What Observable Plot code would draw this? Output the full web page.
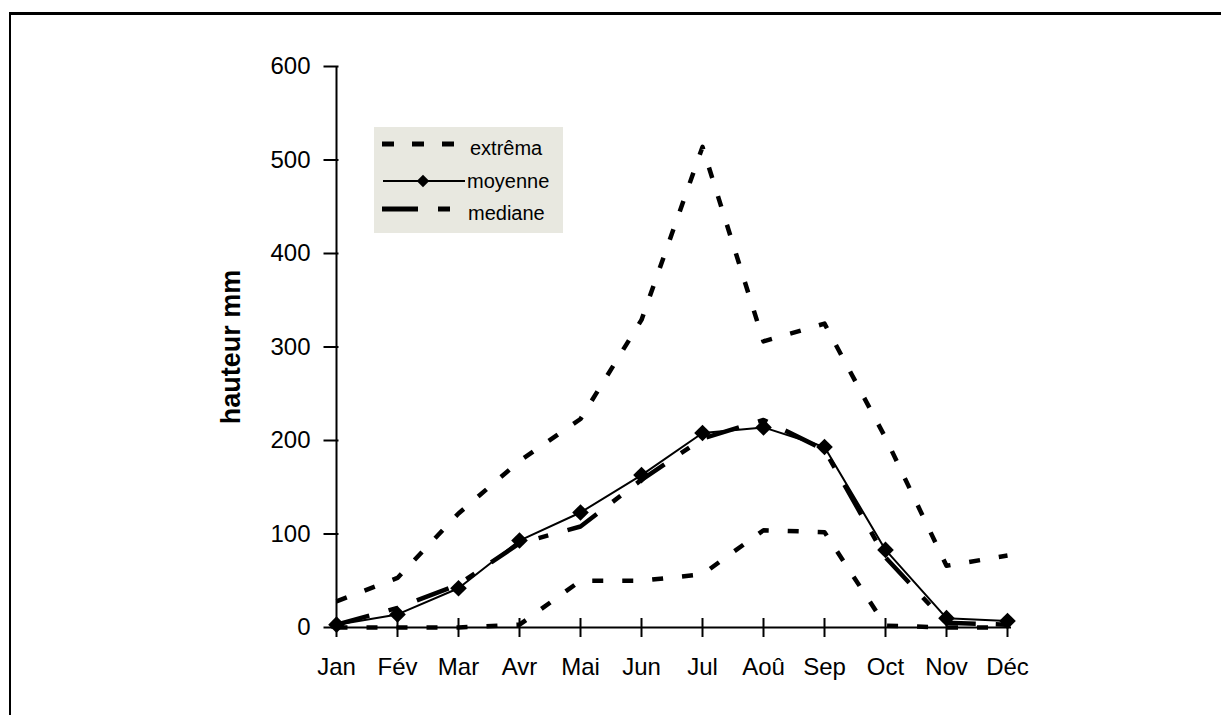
<!DOCTYPE html>
<html>
<head>
<meta charset="utf-8">
<script src="https://cdn.jsdelivr.net/npm/d3@7"></script>
<script src="https://cdn.jsdelivr.net/npm/@observablehq/plot@0.6"></script>
<style>
  html, body { margin: 0; padding: 0; background: #fff; overflow: hidden; }
  #wrap { position: relative; width: 1221px; height: 715px; font-family: "Liberation Sans", Arial, sans-serif; }
  #border { position: absolute; left: 9px; top: 12px; width: 1400px; height: 900px; border-left: 2px solid #000; border-top: 3px solid #000; box-sizing: border-box; pointer-events: none; }
  #chart { position: absolute; left: 0; top: 0; }
  #legend { position: absolute; left: 374px; top: 127px; }
</style>
</head>
<body>
<div id="wrap">
  <div id="border"></div>
  <div id="chart"></div>
  <svg id="legend" width="189" height="106"></svg>
</div>
<script>
const months = ["Jan","Fév","Mar","Avr","Mai","Jun","Jul","Aoû","Sep","Oct","Nov","Déc"];
const extremaMax = [28, 53, 122, 178, 223, 329, 514, 306, 325, 203, 66, 77];
const extremaMin = [0, 0, 0, 3, 50, 50, 57, 104, 102, 2, 0, 0];
const moyenne = [3, 14, 42, 93, 123, 163, 208, 214, 193, 83, 10, 7];
const mediane = [3, 21, 46, 90, 108, 158, 202, 222, 190, 75, 5, 3];
const yTicks = [0, 100, 200, 300, 400, 500, 600];
const yLabel = "hauteur mm";
const legendLabels = ["extrêma", "moyenne", "mediane"];

const rows = months.map((m, i) => ({
  month: m, max: extremaMax[i], min: extremaMin[i], moy: moyenne[i], med: mediane[i]
}));

const dashExt = "11,19";
const dashMed = "34,20,10,20";
const diamondR = 7.5;

const chart = Plot.plot({
  width: 1221,
  height: 715,
  marginLeft: 331,
  marginRight: 210,
  marginTop: 66,
  marginBottom: 88,
  style: { fontFamily: "'Liberation Sans', Arial, sans-serif", fontSize: "24px", color: "#000", background: "transparent", overflow: "visible" },
  x: { type: "point", domain: months, padding: 0, axis: null },
  y: { domain: [0, 600], axis: null },
  marks: [
    Plot.axisY({ ticks: yTicks, tickSize: 0, tickPadding: 21, fontSize: 24, label: null }),
    Plot.axisX({ tickSize: 0, tickPadding: 30, fontSize: 24, label: null }),
    Plot.axisY({ ticks: yTicks, tickSize: 15, dx: 7.5, tickFormat: () => "", strokeWidth: 2, label: null }),
    Plot.axisX({ tickSize: 19, dy: -9, tickFormat: () => "", strokeWidth: 2, label: null }),
    Plot.ruleY([0], { strokeWidth: 2 }),
    Plot.ruleX([months[0]], { strokeWidth: 2 }),
    Plot.text([yLabel], { frameAnchor: "left", textAnchor: "middle", dx: -100, rotate: -90, fontWeight: "bold", fontSize: 27 }),
    Plot.lineY(rows, { x: "month", y: "max", stroke: "#000", strokeWidth: 4.5, strokeDasharray: dashExt, strokeLinecap: "butt" }),
    Plot.lineY(rows, { x: "month", y: "min", stroke: "#000", strokeWidth: 4.5, strokeDasharray: dashExt, strokeLinecap: "butt" }),
    Plot.lineY(rows, { x: "month", y: "med", stroke: "#000", strokeWidth: 4.5, strokeDasharray: dashMed, strokeLinecap: "butt" }),
    Plot.lineY(rows, { x: "month", y: "moy", stroke: "#000", strokeWidth: 2 }),
    Plot.dot(rows, { x: "month", y: "moy", symbol: "diamond2", r: diamondR, fill: "#000", stroke: "none" })
  ]
});
document.getElementById("chart").appendChild(chart);

// Legend
const lg = d3.select("#legend");
lg.append("rect").attr("width", 189).attr("height", 106).attr("fill", "#e8e8e0");
const ox = 374, oy = 127;
lg.append("line").attr("x1", 382 - ox).attr("x2", 456 - ox).attr("y1", 144 - oy).attr("y2", 144 - oy)
  .attr("stroke", "#000").attr("stroke-width", 5).attr("stroke-dasharray", "12,18");
lg.append("line").attr("x1", 383 - ox).attr("x2", 465 - ox).attr("y1", 181 - oy).attr("y2", 181 - oy)
  .attr("stroke", "#000").attr("stroke-width", 2);
lg.append("path").attr("d", d3.symbol(d3.symbolDiamond2, 100)())
  .attr("transform", `translate(${423 - ox},${181 - oy})`).attr("fill", "#000");
lg.append("line").attr("x1", 382 - ox).attr("x2", 450 - ox).attr("y1", 209 - oy).attr("y2", 209 - oy)
  .attr("stroke", "#000").attr("stroke-width", 5).attr("stroke-dasharray", "36,20,12,20");
const baselines = [155, 188, 220];
const tx = [470, 467, 468];
legendLabels.forEach((t, i) => {
  lg.append("text").attr("x", tx[i] - ox).attr("y", baselines[i] - oy)
    .attr("font-family", "'Liberation Sans', Arial, sans-serif").attr("font-size", 20).attr("fill", "#000").text(t);
});
</script>
</body>
</html>
